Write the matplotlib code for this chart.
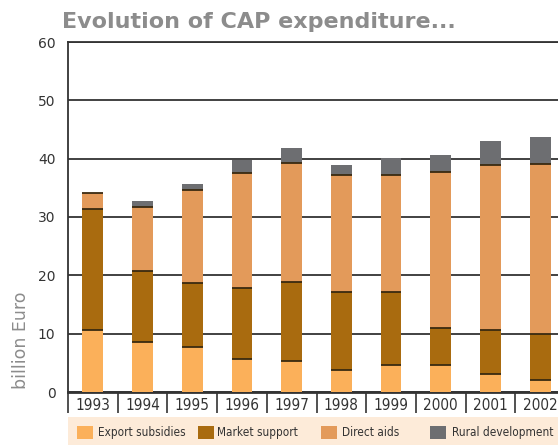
import matplotlib
matplotlib.use('Agg')
import matplotlib.pyplot as plt
import numpy as np
from matplotlib.patches import Rectangle

# Datos (billion Euro)
years = ['1993', '1994', '1995', '1996', '1997', '1998', '1999', '2000', '2001', '2002']
export_subsidies = [10.7, 8.6, 7.7, 5.6, 5.3, 3.8, 4.6, 4.6, 3.1, 2.0]
market_support = [20.6, 12.1, 11.0, 12.2, 13.6, 13.3, 12.5, 6.3, 7.6, 8.0]
direct_aids = [2.9, 11.1, 16.0, 19.7, 20.3, 20.1, 20.1, 26.8, 28.3, 29.1]
rural_development = [0.0, 1.0, 1.0, 2.2, 2.6, 1.8, 2.9, 2.9, 4.0, 4.6]

series = [export_subsidies, market_support, direct_aids, rural_development]
labels = ['Export subsidies', 'Market support', 'Direct aids', 'Rural development']
colors = ['#fbb05a', '#a96b0f', '#e39a5a', '#6d6e71']

dark = '#333333'
fig = plt.figure(figsize=(5.58, 4.45), dpi=100)
W, H = 558, 445
# ejes: izquierda 68 px, abajo 392 px, arriba 42 px; se sale por la derecha
ax = fig.add_axes([68 / W, (H - 392) / H, 497 / W, 350 / H])

x = np.arange(len(years))
bottom = np.zeros(len(years))
for vals, col, lab in zip(series, colors, labels):
    vals = np.array(vals)
    ax.bar(x, vals, width=0.42, bottom=bottom, color=col, edgecolor='none', zorder=3, label=lab)
    bottom = bottom + vals
    # linea oscura en el borde superior de cada segmento (salvo el ultimo)
    if lab != 'Rural development':
        ax.hlines(bottom, x - 0.21, x + 0.21, colors='#3a2a10', linewidth=1.3, zorder=4)

ax.set_xlim(-0.5, len(years) - 0.5)
ax.set_ylim(0, 60)
ax.set_yticks(np.arange(0, 61, 10))
ax.yaxis.grid(True, color=dark, linewidth=1.3, zorder=0)
ax.set_axisbelow(True)
ax.spines['right'].set_visible(False)
for s in ['top', 'left']:
    ax.spines[s].set_color(dark)
    ax.spines[s].set_linewidth(1.3)
ax.spines['bottom'].set_color(dark)
ax.spines['bottom'].set_linewidth(2)

ax.set_xticks(x)
ax.set_xticklabels(years, fontsize=11, color=dark, fontstretch='condensed')
ax.set_xticks(np.arange(-0.5, len(years), 1), minor=True)
ax.tick_params(axis='x', which='major', length=0, pad=4)
ax.tick_params(axis='x', which='minor', length=15, width=1.2, color=dark, direction='out')
ax.tick_params(axis='y', length=0, pad=9, labelsize=10, labelcolor=dark)

# titulo y etiqueta del eje Y
fig.text(62 / W, 1 - 28 / H, 'Evolution of CAP expenditure...', fontsize=16, fontweight='bold',
         color='#8c8c8c', ha='left', va='baseline')
fig.text(21 / W, 1 - 340 / H, 'billion Euro', fontsize=12.5, color='#8c8c8c', rotation=90,
         ha='center', va='center')

# leyenda con fondo
fig.patches.append(Rectangle((68 / W, 0), 1 - 68 / W, 28 / H, transform=fig.transFigure,
                             facecolor='#fdebd9', edgecolor='none', zorder=0))
patch_x = [77, 198, 321, 430]
text_x = [98, 217, 342, 452]
for px, tx, col, lab in zip(patch_x, text_x, colors, labels):
    fig.patches.append(Rectangle((px / W, 6 / H), 16 / W, 13 / H, transform=fig.transFigure,
                                 facecolor=col, edgecolor='none', zorder=1))
    fig.text(tx / W, 12.5 / H, lab, fontsize=8.5, color=dark, fontstretch='condensed',
             ha='left', va='center')

plt.savefig('out.png', dpi=100)
